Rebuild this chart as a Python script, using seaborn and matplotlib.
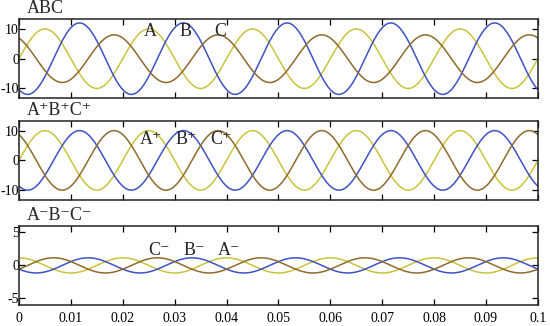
import matplotlib
matplotlib.use("Agg")
import matplotlib.pyplot as plt
import numpy as np
import pandas as pd
import seaborn as sns

# values
freq_hz = 50
t_end = 0.1
phases = ["A", "B", "C"]
colors = ["#c9c43c", "#3f52c4", "#8f6a2c"]

abc_amp = [10, 12, 8]
abc_phase_deg = [0, -120, 120]
pos_amp = [10, 10, 10]
pos_phase_deg = [0, -120, 120]
neg_amp = [1.15, 1.15, 1.15]
neg_phase_deg = [90, 210, -30]

x_ticks = [0, 0.01, 0.02, 0.03, 0.04, 0.05, 0.06, 0.07, 0.08, 0.09, 0.1]
panel_titles = ["ABC", "A\u207aB\u207aC\u207a", "A\u207bB\u207bC\u207b"]
panel_yticks = [[-10, 0, 10], [-10, 0, 10], [-5, 0, 5]]
panel_ylim = [(-13.3, 13.3), (-13.3, 13.3), (-6, 6)]
label_text = [["A", "B", "C"],
              ["A\u207a", "B\u207a", "C\u207a"],
              ["C\u207b", "B\u207b", "A\u207b"]]
label_x = [[0.0253, 0.032, 0.0387],
           [0.0255, 0.0322, 0.039],
           [0.027, 0.0337, 0.0405]]
label_y = [9, 7, 2.3]

t = np.linspace(0, t_end, 1001)


def wave_frame(amps, phs):
    rows = []
    for name, a, p in zip(phases, amps, phs):
        rows.append(pd.DataFrame({"t": t, "v": a * np.sin(2 * np.pi * freq_hz * t + np.deg2rad(p)), "phase": name}))
    return pd.concat(rows, ignore_index=True)


frames = [wave_frame(abc_amp, abc_phase_deg),
          wave_frame(pos_amp, pos_phase_deg),
          wave_frame(neg_amp, neg_phase_deg)]

sns.set_style("ticks")
plt.rcParams["font.family"] = ["Liberation Serif", "DejaVu Serif"]
plt.rcParams["axes.unicode_minus"] = False

fig = plt.figure(figsize=(5.5, 3.26), dpi=100)
left, width = 0.0345, 0.9435
bottoms = [0.6985, 0.3865, 0.0644]
height = 0.243

for i, df in enumerate(frames):
    ax = fig.add_axes([left, bottoms[i], width, height])
    sns.lineplot(data=df, x="t", y="v", hue="phase", palette=colors, linewidth=1.1,
                 estimator=None, sort=False, legend=False, ax=ax)
    ax.set_xlim(0, t_end)
    ax.set_ylim(*panel_ylim[i])
    ax.set_xticks(x_ticks)
    ax.set_yticks(panel_yticks[i])
    ax.set_xlabel("")
    ax.set_ylabel("")
    if i == 2:
        ax.set_xticklabels([f"{v:g}" for v in x_ticks])
    else:
        ax.set_xticklabels([])
    ax.tick_params(direction="in", top=True, right=True, length=4, width=0.9,
                   labelsize=10, colors="black")
    ax.tick_params(axis="y", pad=0)
    ax.tick_params(axis="x", pad=5)
    for s in ax.spines.values():
        s.set_visible(True)
        s.set_linewidth(1.1)
        s.set_color("#222222")
    ax.text(0.015, 1.02, panel_titles[i], transform=ax.transAxes, ha="left", va="bottom", fontsize=13)
    for txt, lx in zip(label_text[i], label_x[i]):
        ax.text(lx, label_y[i], txt, ha="center", va="center", fontsize=13)

fig.savefig("out.png", dpi=100)
